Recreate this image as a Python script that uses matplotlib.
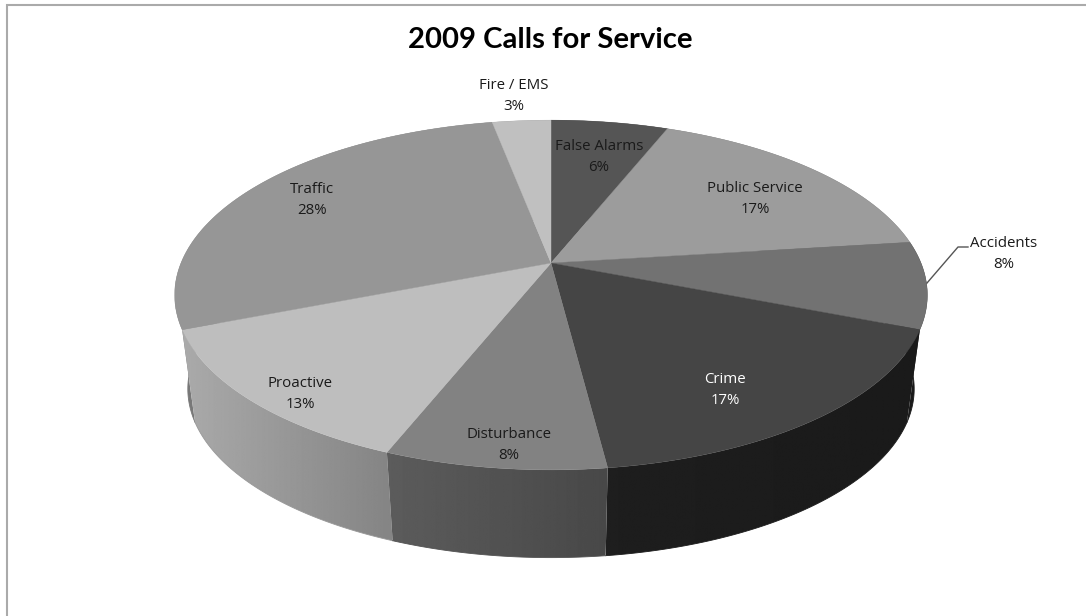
"""
2009 calls for service, drawn as an extruded pie with perspective
"""

import numpy as np
import matplotlib
matplotlib.use('Agg')
import matplotlib.pyplot as plt
from matplotlib.patches import Polygon

# Clockwise from twelve o'clock
categories = ["False Alarms", "Public Service", "Accidents", "Crime",
              "Disturbance", "Proactive", "Traffic", "Fire / EMS"]
values = [6, 17, 8, 17, 8, 13, 28, 3]

top_colors = ["#555555", "#9c9c9c", "#727272", "#454545",
              "#828282", "#bebebe", "#969696", "#c0c0c0"]
# Grey level of each side wall at the start and end of its slice
wall_greys = [(0x30, 0x30), (0x60, 0x60), (0x1a, 0x1a), (0x1a, 0x1e),
              (0x48, 0x5c), (0x85, 0xaa), (0x78, 0x78), (0x80, 0x80)]

label_centers = [(599, 157), (755, 199), (1004, 254), (725, 390),
                 (509, 445), (300, 394), (312, 200), (514, 96)]
label_colors = ["#1a1a1a", "#1a1a1a", "#1a1a1a", "#ffffff",
                "#1a1a1a", "#1a1a1a", "#1a1a1a", "#1a1a1a"]

# Pie projection, in pixels
CX, CY = 551, 263
RX, RY = 370, 169
PERSPECTIVE = 0.183
DROP = 95
BASE_SCALE = 0.965


def project(theta):
    """Map a clockwise angle on the top rim to screen coordinates."""
    w = 1 + PERSPECTIVE * np.cos(theta)
    return CX + RX * np.sin(theta) / w, CY - RY * np.cos(theta) / w


def project_base(theta):
    """Same angle on the bottom rim, which sits lower and slightly smaller."""
    x, y = project(theta)
    return CX + (x - CX) * BASE_SCALE, CY + (y - CY) * BASE_SCALE + DROP


def draw_wall(ax, start, end, grey_start, grey_end):
    """Draw a slice's outer wall as a clipped horizontal gradient."""
    angles = np.linspace(start, end, 120)
    top_x, top_y = project(angles)
    base_x, base_y = project_base(angles)
    xs = np.concatenate([top_x, base_x[::-1]])
    ys = np.concatenate([top_y, base_y[::-1]])
    outline = Polygon(np.column_stack([xs, ys]), transform=ax.transData)

    grid = np.linspace(xs.min(), xs.max(), 256)
    if top_x[0] < top_x[-1]:
        greys = np.interp(grid, [top_x[0], top_x[-1]], [grey_start, grey_end])
    else:
        greys = np.interp(grid, [top_x[-1], top_x[0]], [grey_end, grey_start])
    image = ax.imshow(greys[np.newaxis, :], cmap='gray', vmin=0, vmax=255, aspect='auto',
                      extent=(xs.min(), xs.max(), ys.max(), ys.min()), zorder=2)
    image.set_clip_path(outline)

    # Smooth the clipped lower edge
    mid_grey = (grey_start + grey_end) / 2 / 255
    ax.plot(base_x, base_y, color=(mid_grey, mid_grey, mid_grey), linewidth=0.6, zorder=2)


def draw_top(ax, start, end, color):
    angles = np.linspace(start, end, 120)
    xs, ys = project(angles)
    points = [(CX, CY)] + list(zip(xs, ys))
    ax.add_patch(Polygon(points, facecolor=color, edgecolor=color, linewidth=0.3, zorder=3))


def main():
    fig = plt.figure(figsize=(10.86, 6.16), dpi=100)
    ax = fig.add_axes([0, 0, 1, 1])
    ax.axis('off')

    # Chart frame, only the top and left edges fall inside the canvas
    ax.plot([7, 7, 1086], [616, 5, 5], color="#aaaaaa", linewidth=1.5,
            solid_joinstyle='miter', zorder=1)

    edges = np.radians(np.cumsum([0] + values) / sum(values) * 360)

    # Walls go back to front so the nearer ones cover the overlap at the sides
    mids = (edges[:-1] + edges[1:]) / 2
    for i in np.argsort(-np.abs(mids - np.pi)):
        draw_wall(ax, edges[i], edges[i + 1], *wall_greys[i])
    for i in range(len(values)):
        draw_top(ax, edges[i], edges[i + 1], top_colors[i])

    # Leader line for the label sitting outside the pie
    ax.plot([927, 958, 968], [283, 247, 247], color="#555555", linewidth=1.0, zorder=4)

    for name, value, (x, y), color in zip(categories, values, label_centers, label_colors):
        ax.text(x, y, f"{name}\n{value}%", color=color, ha='center', va='center',
                fontsize=10.8, family='Open Sans', linespacing=1.6, zorder=5)

    ax.text(550, 40, "2009 Calls for Service", ha='center', va='center',
            fontsize=21.1, family='Lato', fontweight='bold', color='black', zorder=5)

    ax.set_xlim(0, 1086)
    ax.set_ylim(616, 0)
    fig.savefig("out.png", dpi=100, facecolor='white')


if __name__ == "__main__":
    main()
